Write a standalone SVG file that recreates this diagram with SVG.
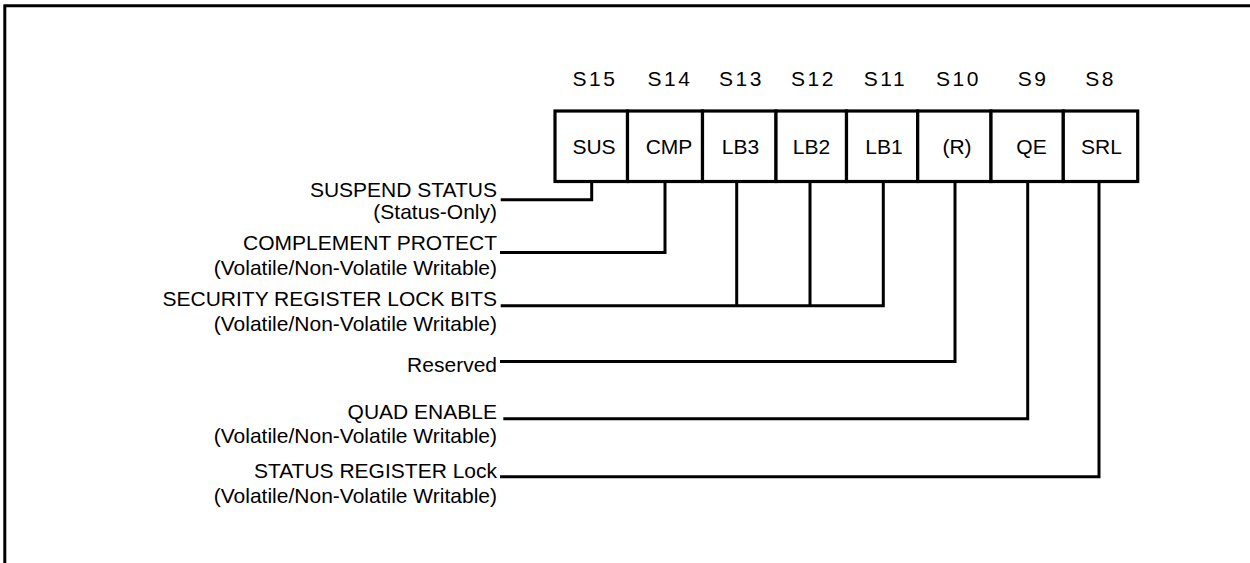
<svg xmlns="http://www.w3.org/2000/svg" width="1250" height="563" viewBox="0 0 1250 563">
<style>
text{font-family:"Liberation Sans",Arial,sans-serif;font-size:21px;fill:#000}
.hdr{text-anchor:middle;letter-spacing:2.5px}
.cell{text-anchor:middle}
.lbl{text-anchor:end}
.frame{fill:none;stroke:#000;stroke-width:3}
.box{fill:#fff;stroke:#000;stroke-width:3.2}
.conn{fill:none;stroke:#000;stroke-width:3}
</style>
<rect width="1250" height="563" fill="#fff"/>
<path class="frame" d="M4.8,563 V5.8 H1250"/>
<g id="headers">
<text class="hdr" x="595" y="86">S15</text>
<text class="hdr" x="670" y="86">S14</text>
<text class="hdr" x="741.5" y="86">S13</text>
<text class="hdr" x="813.5" y="86">S12</text>
<text class="hdr" x="885.5" y="86">S11</text>
<text class="hdr" x="958.5" y="86">S10</text>
<text class="hdr" x="1033" y="86">S9</text>
<text class="hdr" x="1100.5" y="86">S8</text>
</g>
<g id="register">
<g id="bit-S15"><rect class="box" x="555" y="111" width="72.5" height="70.5"/><text class="cell" x="594" y="154">SUS</text></g>
<g id="bit-S14"><rect class="box" x="627.5" y="111" width="75" height="70.5"/><text class="cell" x="669" y="154">CMP</text></g>
<g id="bit-S13"><rect class="box" x="702.5" y="111" width="73.5" height="70.5"/><text class="cell" x="740.5" y="154">LB3</text></g>
<g id="bit-S12"><rect class="box" x="776" y="111" width="70.5" height="70.5"/><text class="cell" x="811.5" y="154">LB2</text></g>
<g id="bit-S11"><rect class="box" x="846.5" y="111" width="71.2" height="70.5"/><text class="cell" x="884" y="154">LB1</text></g>
<g id="bit-S10"><rect class="box" x="917.7" y="111" width="73.3" height="70.5"/><text class="cell" x="957" y="154">(R)</text></g>
<g id="bit-S9"><rect class="box" x="991" y="111" width="72.3" height="70.5"/><text class="cell" x="1031.5" y="154">QE</text></g>
<g id="bit-S8"><rect class="box" x="1063.3" y="111" width="74.4" height="70.5"/><text class="cell" x="1101.5" y="154">SRL</text></g>
</g>
<g id="labels">
<g id="lbl-sus"><text class="lbl" x="497" y="197">SUSPEND STATUS</text><text class="lbl" x="497" y="219">(Status-Only)</text></g>
<g id="lbl-cmp"><text class="lbl" x="497" y="250">COMPLEMENT PROTECT</text><text class="lbl" x="497" y="275">(Volatile/Non-Volatile Writable)</text></g>
<g id="lbl-lb"><text class="lbl" x="497" y="306">SECURITY REGISTER LOCK BITS</text><text class="lbl" x="497" y="331">(Volatile/Non-Volatile Writable)</text></g>
<g id="lbl-r"><text class="lbl" x="497" y="372">Reserved</text></g>
<g id="lbl-qe"><text class="lbl" x="497" y="419">QUAD ENABLE</text><text class="lbl" x="497" y="442.5">(Volatile/Non-Volatile Writable)</text></g>
<g id="lbl-srl"><text class="lbl" x="497" y="478">STATUS REGISTER Lock</text><text class="lbl" x="497" y="502.5">(Volatile/Non-Volatile Writable)</text></g>
</g>
<g id="connectors">
<path class="conn" d="M500.7,199.7 H591.7 V181.5"/>
<path class="conn" d="M500,252.5 H665 V181.5"/>
<path class="conn" d="M500.7,305.8 H883.3 V181.5 M736.7,181.5 V305.8 M810,181.5 V305.8"/>
<path class="conn" d="M500,361.5 H955 V181.5"/>
<path class="conn" d="M503.3,418.8 H1027.7 V181.5"/>
<path class="conn" d="M500,476.8 H1099 V181.5"/>
</g>
</svg>
